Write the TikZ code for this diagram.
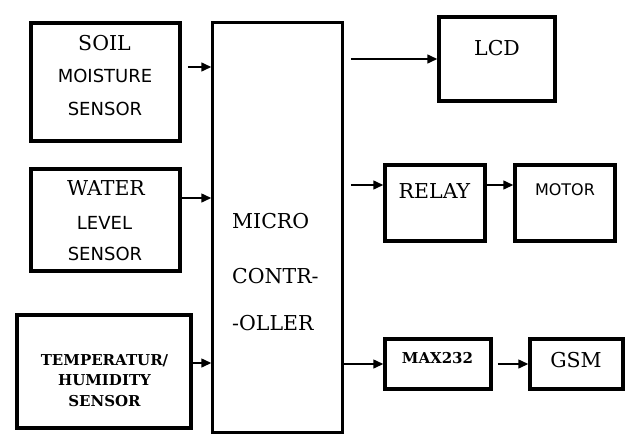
\documentclass[tikz,border=0pt]{standalone}
\usepackage{fontspec}
\setmainfont{DejaVu Serif}
\setsansfont{DejaVu Sans}
\usetikzlibrary{arrows.meta,positioning}
\tikzset{
  blk/.style={draw=black,fill=white,line width=3.5pt,inner sep=0pt},
  ctrlblk/.style={draw=black,fill=white,line width=2.5pt,inner sep=0pt},
  sertxt/.style={font=\fontsize{20.5}{24}\selectfont,inner sep=0pt},
  santxt/.style={font=\sffamily\fontsize{18}{22}\selectfont,inner sep=0pt},
  bldtxt/.style={font=\bfseries\fontsize{15}{18}\selectfont,inner sep=0pt},
  sig/.style={-{Triangle[length=10pt,width=9pt]},line width=1.5pt}
}
\begin{document}
\begin{tikzpicture}[x=1pt,y=-1pt]
  \useasboundingbox (0,0) rectangle (628,436);

  % sensors
  \node[blk,minimum width=149pt,minimum height=118pt] (soil) at (105.5,82) {};
  \node[sertxt] (soilt1) at (104.5,43) {SOIL};
  \node[santxt] (soilt2) at (105,76) {MOISTURE};
  \node[santxt] (soilt3) at (105,109) {SENSOR};

  \node[blk,minimum width=149pt,minimum height=102pt] (water) at (105.5,220) {};
  \node[sertxt] (watert1) at (106,188) {WATER};
  \node[santxt] (watert2) at (104.5,223) {LEVEL};
  \node[santxt] (watert3) at (105,254) {SENSOR};

  \node[blk,minimum width=174pt,minimum height=113pt] (temp) at (104,371.5) {};
  \node[bldtxt] (tempt1) at (104.5,361) {TEMPERATUR/};
  \node[bldtxt] (tempt2) at (104.5,380) {HUMIDITY};
  \node[bldtxt] (tempt3) at (104.5,401) {SENSOR};

  % controller
  \node[ctrlblk,minimum width=130pt,minimum height=410pt] (micro) at (277.5,227.5) {};
  \node[sertxt,anchor=west] (microt1) at (232,221) {MICRO};
  \node[sertxt,anchor=west] (microt2) at (232,276) {CONTR-};
  \node[sertxt,anchor=west] (microt3) at (232,323) {-OLLER};

  % outputs
  \node[blk,minimum width=116pt,minimum height=84pt] (lcd) at (497,59) {};
  \node[sertxt] (lcdt) at (497,48) {LCD};

  \node[blk,minimum width=100pt,minimum height=76pt] (relay) at (435,203) {};
  \node[sertxt] (relayt) at (434.5,191) {RELAY};

  \node[blk,minimum width=100pt,minimum height=76pt] (motor) at (565,203) {};
  \node[santxt,font=\sffamily\fontsize{16}{19}\selectfont] (motort) at (565,190) {MOTOR};

  \node[blk,minimum width=106pt,minimum height=50pt] (max232) at (438,364) {};
  \node[bldtxt] (max232t) at (437.5,358) {MAX232};

  \node[blk,minimum width=93pt,minimum height=50pt] (gsm) at (576.5,364) {};
  \node[sertxt] (gsmt) at (576,360) {GSM};

  % inputs to controller
  \coordinate (soilout) at ([xshift=6pt,yshift=15pt]soil.east);
  \coordinate (waterout) at ([yshift=22pt]water.east);
  \coordinate (tempout) at ([yshift=8.5pt]temp.east);
  \draw[sig] (soilout) -- (soilout -| micro.west);
  \draw[sig] (waterout) -- (waterout -| micro.west);
  \draw[sig] (tempout) -- (tempout -| micro.west);

  % controller to outputs
  \coordinate (ctrlout) at ([xshift=7pt]micro.east);
  \coordinate (relayin) at ([yshift=18pt]relay.west);
  \coordinate (motorin) at ([yshift=18pt]motor.west);
  \draw[sig] (ctrlout |- lcd.west) -- (lcd.west);
  \draw[sig] (ctrlout |- relayin) -- (relayin);
  \draw[sig] (relayin -| relay.east) -- (motorin);
  \draw[sig] (micro.east |- max232.west) -- (max232.west);
  \draw[sig] ([xshift=5pt]max232.east) -- (gsm.west);
\end{tikzpicture}
\end{document}
